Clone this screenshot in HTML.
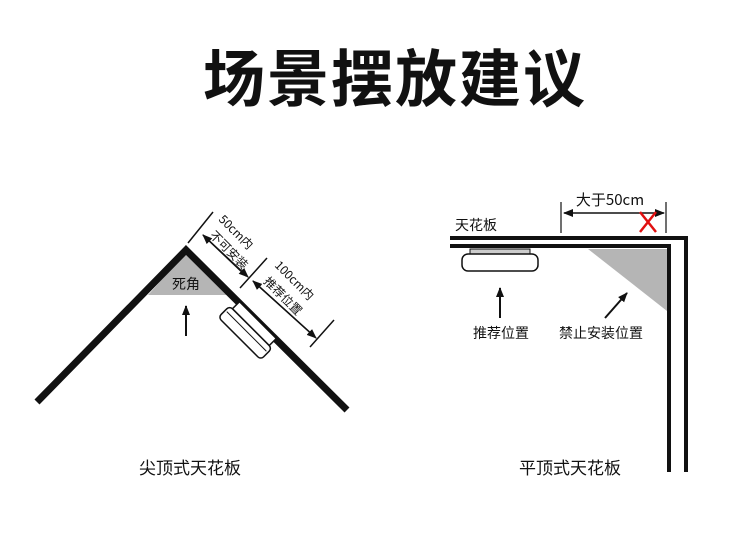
<!DOCTYPE html>
<html><head><meta charset="utf-8"><style>
html,body{margin:0;padding:0;background:#fff;}
svg{display:block;font-family:"Liberation Sans","Noto Sans CJK SC",sans-serif;}
</style></head><body>
<svg width="750" height="543" viewBox="0 0 750 543" xmlns="http://www.w3.org/2000/svg">
<defs>
<marker id="ah" markerWidth="10" markerHeight="10" refX="9" refY="5" orient="auto" markerUnits="userSpaceOnUse">
<path d="M0,1 L10,5 L0,9 Z" fill="#111"/></marker>
</defs>
<text x="395" y="101" font-size="62" font-weight="bold" text-anchor="middle" fill="#111" font-family="Noto Sans CJK SC,sans-serif" letter-spacing="2">场景摆放建议</text>

<!-- pointed ceiling -->
<polygon points="186,253 148,295 228,295" fill="#b5b5b5"/>
<polyline points="37,402 186,250 347,410" fill="none" stroke="#111" stroke-width="7"/>
<text x="186" y="289" font-size="14" text-anchor="middle" fill="#111" font-family="Noto Sans CJK SC,sans-serif">死角</text>
<line x1="186" y1="336" x2="186" y2="306" stroke="#111" stroke-width="2" marker-end="url(#ah)"/>
<!-- detector -->
<g transform="translate(248,330) rotate(45)">
<rect x="-26" y="-14" width="52" height="10" fill="#fff" stroke="#111" stroke-width="1.5"/>
<rect x="-30" y="-4" width="60" height="16" rx="4" fill="#fff" stroke="#111" stroke-width="1.5"/>
<line x1="-28" y1="2" x2="28" y2="2" stroke="#111" stroke-width="1"/>
</g>
<!-- dimensions -->
<line x1="188" y1="243" x2="213" y2="212" stroke="#111" stroke-width="1.5"/>
<line x1="240" y1="288" x2="267" y2="258" stroke="#111" stroke-width="1.5"/>
<line x1="310" y1="347" x2="334" y2="320" stroke="#111" stroke-width="1.5"/>
<line x1="246" y1="276" x2="203" y2="235" stroke="#111" stroke-width="1.5" marker-end="url(#ah)"/>
<line x1="203" y1="235" x2="248" y2="277" stroke="#111" stroke-width="1.5" marker-end="url(#ah)"/>
<line x1="314" y1="336" x2="253" y2="281" stroke="#111" stroke-width="1.5" marker-end="url(#ah)"/>
<line x1="253" y1="281" x2="316" y2="338" stroke="#111" stroke-width="1.5" marker-end="url(#ah)"/>
<g font-size="12" fill="#111" font-family="Noto Sans CJK SC,sans-serif">
<text transform="translate(218,220) rotate(45)">50cm内</text>
<text transform="translate(209,236) rotate(45)">不可安装</text>
<text transform="translate(274,266) rotate(45)">100cm内</text>
<text transform="translate(263,282) rotate(45)">推荐位置</text>
</g>
<text x="190" y="474" font-size="17" text-anchor="middle" fill="#111" font-family="Noto Sans CJK SC,sans-serif">尖顶式天花板</text>

<!-- flat ceiling -->
<polygon points="588,249 667,249 667,311" fill="#b5b5b5"/>
<polyline points="450,238 686,238 686,472" fill="none" stroke="#111" stroke-width="4"/>
<polyline points="450,246 669,246 669,472" fill="none" stroke="#111" stroke-width="4"/>
<text x="455" y="230" font-size="14" fill="#111" font-family="Noto Sans CJK SC,sans-serif">天花板</text>
<rect x="470" y="249" width="60" height="6" fill="#ccc" stroke="#111" stroke-width="1"/>
<rect x="462" y="254" width="76" height="17" rx="6" fill="#fff" stroke="#111" stroke-width="1.5"/>
<line x1="500" y1="318" x2="500" y2="288" stroke="#111" stroke-width="2" marker-end="url(#ah)"/>
<line x1="605" y1="318" x2="627" y2="293" stroke="#111" stroke-width="2" marker-end="url(#ah)"/>
<text x="501" y="338" font-size="14" text-anchor="middle" fill="#111" font-family="Noto Sans CJK SC,sans-serif">推荐位置</text>
<text x="601" y="338" font-size="14" text-anchor="middle" fill="#111" font-family="Noto Sans CJK SC,sans-serif">禁止安装位置</text>
<line x1="561" y1="202" x2="561" y2="233" stroke="#111" stroke-width="1.2"/>
<line x1="666" y1="202" x2="666" y2="233" stroke="#111" stroke-width="1.2"/>
<line x1="610" y1="213" x2="564" y2="213" stroke="#111" stroke-width="1.5" marker-end="url(#ah)"/>
<line x1="610" y1="213" x2="664" y2="213" stroke="#111" stroke-width="1.5" marker-end="url(#ah)"/>
<text x="610" y="205" font-size="15" text-anchor="middle" fill="#111" font-family="Noto Sans CJK SC,sans-serif">大于50cm</text>
<path d="M640,212 L656,232 M656,212 L640,232" stroke="#e01010" stroke-width="2.5"/>
<text x="570" y="474" font-size="17" text-anchor="middle" fill="#111" font-family="Noto Sans CJK SC,sans-serif">平顶式天花板</text>
</svg>
</body></html>
